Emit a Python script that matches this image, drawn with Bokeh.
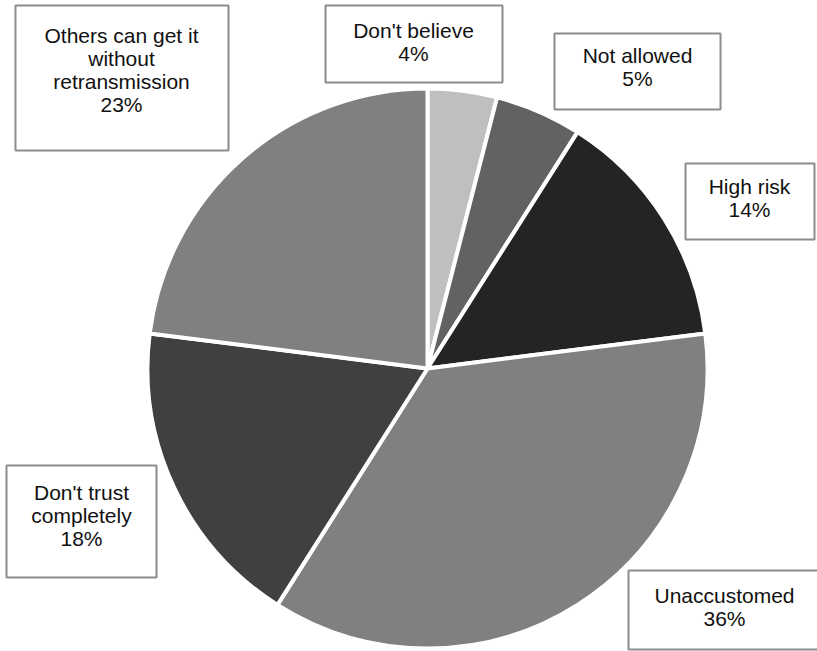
import math
from bokeh.plotting import figure
from bokeh.models import Range1d, ColumnDataSource
from bokeh.embed import file_html
from bokeh.resources import INLINE
from bokeh.core.properties import value

# ---- data ----
categories = ["Don't believe", "Not allowed", "High risk", "Unaccustomed",
              "Don't trust completely", "Others can get it without retransmission"]
label_lines = [["Don't believe"], ["Not allowed"], ["High risk"], ["Unaccustomed"],
               ["Don't trust", "completely"], ["Others can get it", "without", "retransmission"]]
percent = [4, 5, 14, 36, 18, 23]
colors = ["#bfbfbf", "#626262", "#242424", "#808080", "#404040", "#808080"]

# ---- layout (screenshot pixel coordinates) ----
W, H = 817, 651
cx, cy, r = 427, 368, 280
box_l = [325, 554, 685, 628, 6, 15]
box_r = [502, 720, 814, 824, 156, 228]
box_t = [5, 33, 163, 570, 465, 5]
box_b = [82, 109, 239, 649, 577, 150]
txt_x = [413, 637, 749, 724, 81, 121]
txt_y = [41, 66, 197, 606, 515, 69]

def fy(y):
    return H - y

total = float(sum(percent))
starts, ends = [], []
c = 0.0
for v in percent:
    c0 = c
    c1 = c + v / total
    ends.append(math.pi / 2 - 2 * math.pi * c0)
    starts.append(math.pi / 2 - 2 * math.pi * c1)
    c = c1

src = ColumnDataSource(dict(start=starts, end=ends, color=colors))

p = figure(width=W, height=H, output_backend="svg", toolbar_location=None,
           x_range=Range1d(0, W), y_range=Range1d(0, H), min_border=0)
p.axis.visible = False
p.grid.visible = False
p.outline_line_color = None
p.background_fill_color = "white"
p.border_fill_color = "white"

p.wedge(x=cx, y=fy(cy), radius=r, start_angle="start", end_angle="end",
        fill_color="color", line_color="white", line_width=4, source=src)

labels = ["\n".join(lines + [f"{v}%"]) for lines, v in zip(label_lines, percent)]
bsrc = ColumnDataSource(dict(
    left=box_l, right=box_r, top=[fy(t) for t in box_t], bottom=[fy(b) for b in box_b],
    tx=txt_x, ty=[fy(t) for t in txt_y], text=labels))

p.quad(left="left", right="right", top="top", bottom="bottom", source=bsrc,
       fill_color="white", line_color="#8c8c8c", line_width=2)
p.text(x="tx", y="ty", text="text", source=bsrc, text_font=value("Liberation Sans"),
       text_font_size="21px", text_align="center", text_baseline="middle",
       text_color="#111111", text_line_height=1.0)

open("out.html", "w").write(file_html(p, INLINE))
